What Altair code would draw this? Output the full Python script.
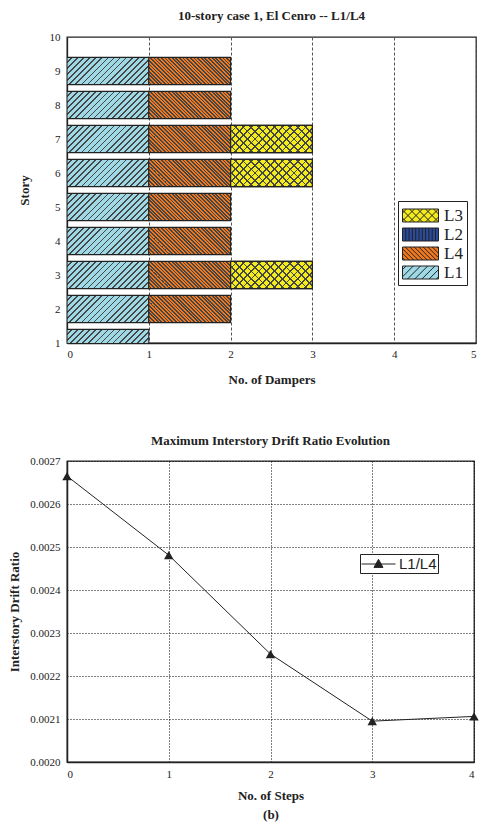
import math
import altair as alt
import pandas as pd

# ---------------- data ----------------
stories = [1, 2, 3, 4, 5, 6, 7, 8, 9]
n_L1 = [1, 1, 1, 1, 1, 1, 1, 1, 1]
n_L4 = [0, 1, 1, 1, 1, 1, 1, 1, 1]
n_L2 = [0, 0, 0, 0, 0, 0, 0, 0, 0]
n_L3 = [0, 0, 1, 0, 0, 1, 1, 0, 0]
stack_order = ["L1", "L4", "L2", "L3"]
legend_order = ["L3", "L2", "L4", "L1"]
type_colors = ["#f3eb1e", "#2b4b9b", "#f0781f", "#9fd9e6"]   # in legend_order

steps = [0, 1, 2, 3, 4]
drift = [0.002665, 0.002481, 0.002251, 0.002095, 0.002106]
drift_ticks = [0.0020, 0.0021, 0.0022, 0.0023, 0.0024, 0.0025, 0.0026, 0.0027]
story_ticks = [1, 2, 3, 4, 5, 6, 7, 8, 9, 10]
damper_ticks = [0, 1, 2, 3, 4, 5]

SERIF = "Liberation Serif"
SANS = "Liberation Sans"

# ---------------- build tables ----------------
counts = {"L1": n_L1, "L4": n_L4, "L2": n_L2, "L3": n_L3}
BAR = 0.8
rows = []
for i, s in enumerate(stories):
    left = 0
    for t in stack_order:
        c = counts[t][i]
        if c > 0:
            rows.append(dict(story=s, type=t, x=left, x2=left + c,
                             y=s - BAR / 2, y2=s + BAR / 2))
            left += c
bars = pd.DataFrame(rows)
legend_df = pd.DataFrame({"type": legend_order})
drift_df = pd.DataFrame({"step": steps, "drift": drift, "series": "L1/L4"})

# ---------------- hatch styles ----------------
W1, H1 = 409, 306
W2, H2 = 407, 301
W_PX = W1 / 5.0
H_PX = H1 / 9.0 * BAR


def stripes(bg, line, n, direction, lw_px=1.25):
    r = H_PX / W_PX
    a = (1 + r) / (1 + r * r)
    b = a * r
    span = (W_PX + H_PX) / math.sqrt(2)
    lw = lw_px / span
    if direction == "/":
        x1, y1, x2, y2 = 0, 0, a, b
    else:
        x1, y1, x2, y2 = 0, 1, a, 1 - b
    stops = []
    for k in range(n):
        s = k / n
        e = (k + 1) / n
        m = e - lw
        stops += [(bg, s), (bg, m), (line, m), (line, e)]
    return alt.LinearGradient(
        gradient="linear",
        stops=[alt.GradientStop(color=c, offset=round(o, 5)) for c, o in stops],
        x1=x1, y1=y1, x2=x2, y2=y2)


LINE = "#454545"
fills = {
    "L1": [stripes("#9fd9e6", LINE, 18, "/")],
    "L4": [stripes("#f0781f", LINE, 30, "\\")],
    "L3": [stripes("#f3eb1e", LINE, 14, "/"),
           stripes("rgba(0,0,0,0)", LINE, 14, "\\")],
}

# legend symbol paths: 20px symbol box (10 px per unit), drawn 36 x 13 px
SYM_SIZE = 400
X0, X1 = -1.0, 2.6
HH = 0.65


def rect_path():
    return f"M{X0},{-HH}L{X1},{-HH}L{X1},{HH}L{X0},{HH}Z"


def diag_lines(period, kind):
    segs = []
    c = X0 - HH + period / 2
    while c < X1 + HH:
        xa = max(X0, c - HH)
        xb = min(X1, c + HH)
        if xb - xa > 0.04:
            if kind == "/":
                segs.append(f"M{xa:.3f},{c - xa:.3f}L{xb:.3f},{c - xb:.3f}")
            else:
                segs.append(f"M{xa:.3f},{xa - c:.3f}L{xb:.3f},{xb - c:.3f}")
        c += period
    return "".join(segs)


def vert_lines(period):
    segs = []
    x = X0 + period
    while x < X1 - 1e-6:
        segs.append(f"M{x:.3f},{-HH}L{x:.3f},{HH}")
        x += period
    return "".join(segs)


sym_paths = {
    "L3": rect_path() + diag_lines(0.8, "/") + diag_lines(0.8, "\\"),
    "L2": rect_path() + vert_lines(0.33),
    "L4": rect_path() + diag_lines(0.45, "\\"),
    "L1": rect_path() + diag_lines(0.72, "/"),
}

# ---------------- top chart ----------------
x_top = alt.X("x:Q", scale=alt.Scale(domain=[0, 5], nice=False, zero=False),
              axis=alt.Axis(values=damper_ticks, title="No. of Dampers", format="d",
                            grid=True, gridDash=[3, 2], gridColor="#555555", gridWidth=1,
                            ticks=False, labelPadding=5, titlePadding=14,
                            labelFont=SERIF, labelFontSize=11, labelColor="#222",
                            titleFont=SERIF, titleFontSize=13, titleFontWeight="bold",
                            titleColor="#222", domainColor="#222", domainWidth=1.3))
y_top = alt.Y("y:Q", scale=alt.Scale(domain=[1, 10], nice=False, zero=False),
              axis=alt.Axis(values=story_ticks, title="Story", format="d", grid=False,
                            ticks=False, labelPadding=7, titlePadding=18,
                            labelFont=SERIF, labelFontSize=11, labelColor="#222",
                            titleFont=SERIF, titleFontSize=13, titleFontWeight="bold",
                            titleColor="#222", domainColor="#222", domainWidth=1.3))

top_layers = []
for t in ["L1", "L4", "L3"]:
    for g in fills[t]:
        top_layers.append(
            alt.Chart(bars).transform_filter(alt.datum.type == t)
            .mark_rect(fill=g, stroke="#222222", strokeWidth=1.1, clip=True)
            .encode(x=x_top, x2="x2:Q", y=y_top, y2="y2:Q")
        )

leg_top = alt.Legend(title=None, orient="none", legendX=331, legendY=164,
                     strokeColor="#222", fillColor="white", padding=4,
                     labelFont=SERIF, labelFontSize=17, labelColor="#222",
                     labelOffset=21, symbolSize=SYM_SIZE, symbolStrokeWidth=1,
                     rowPadding=0, symbolOpacity=1)
legend_layer = (
    alt.Chart(legend_df).transform_filter("false")
    .mark_point(filled=True)
    .encode(
        fill=alt.Fill("type:N", scale=alt.Scale(domain=legend_order, range=type_colors),
                      legend=leg_top),
        stroke=alt.Stroke("type:N", scale=alt.Scale(domain=legend_order,
                                                    range=["#222"] * len(legend_order)),
                          legend=leg_top),
        shape=alt.Shape("type:N", scale=alt.Scale(domain=legend_order,
                                                  range=[sym_paths[t] for t in legend_order]),
                        legend=leg_top),
    )
)

top = alt.layer(*top_layers, legend_layer).properties(
    width=W1, height=H1,
    title=alt.TitleParams("10-story case 1, El Cenro -- L1/L4", font=SERIF, fontSize=13,
                          fontWeight="bold", color="#222", offset=8),
)

# ---------------- bottom chart ----------------
x_bot = alt.X("step:Q", scale=alt.Scale(domain=[0, 4], nice=False, zero=False),
              axis=alt.Axis(values=steps, title=["No. of Steps", "(b)"], format="d",
                            grid=True, gridDash=[1, 2], gridColor="#000", gridWidth=1,
                            ticks=False, labelPadding=6, titlePadding=10, titleLineHeight=19,
                            labelFont=SERIF, labelFontSize=11, labelColor="#222",
                            titleFont=SERIF, titleFontSize=13, titleFontWeight="bold",
                            titleColor="#222", domainColor="#222", domainWidth=1.5))
y_bot = alt.Y("drift:Q", scale=alt.Scale(domain=[0.002, 0.0027], nice=False, zero=False),
              axis=alt.Axis(values=drift_ticks, title="Interstory Drift Ratio", format=".4f",
                            grid=True, gridDash=[1, 2], gridColor="#000", gridWidth=1,
                            ticks=False, labelPadding=7, titlePadding=8,
                            labelFont=SERIF, labelFontSize=11, labelColor="#222",
                            titleFont=SERIF, titleFontSize=13, titleFontWeight="bold",
                            titleColor="#222", domainColor="#222", domainWidth=1.5))

line = alt.Chart(drift_df).mark_line(color="#222", strokeWidth=1).encode(x=x_bot, y=y_bot)
leg_bot = alt.Legend(title=None, orient="none", legendX=293, legendY=93,
                     strokeColor="#222", fillColor="white", padding=1,
                     labelFont=SANS, labelFontSize=15, labelColor="#222", labelOffset=20,
                     symbolType="M-1,0L3,0M1,-0.55L1.53,0.4L0.47,0.4Z", symbolSize=289,
                     symbolStrokeColor="#222", symbolFillColor="#222", symbolStrokeWidth=1)
pts = alt.Chart(drift_df).mark_point(shape="triangle-up", size=90, filled=True, opacity=1).encode(
    x=x_bot, y=y_bot,
    color=alt.Color("series:N", scale=alt.Scale(domain=["L1/L4"], range=["#222"]), legend=leg_bot),
)
bottom = alt.layer(line, pts).properties(
    width=W2, height=H2,
    title=alt.TitleParams("Maximum Interstory Drift Ratio Evolution", font=SERIF, fontSize=13,
                          fontWeight="bold", color="#222", offset=7),
)

chart = (
    alt.vconcat(top, bottom, spacing=47)
    .resolve_scale(color="independent", shape="independent", fill="independent",
                   stroke="independent")
    .resolve_legend(color="independent", shape="independent", fill="independent",
                    stroke="independent")
    .properties(padding={"left": 0, "top": 1, "right": 0, "bottom": 0})
    .configure_view(stroke="#222", strokeWidth=1.3)
)

chart.save("out.html", embed_options={"renderer": "svg", "actions": False})
